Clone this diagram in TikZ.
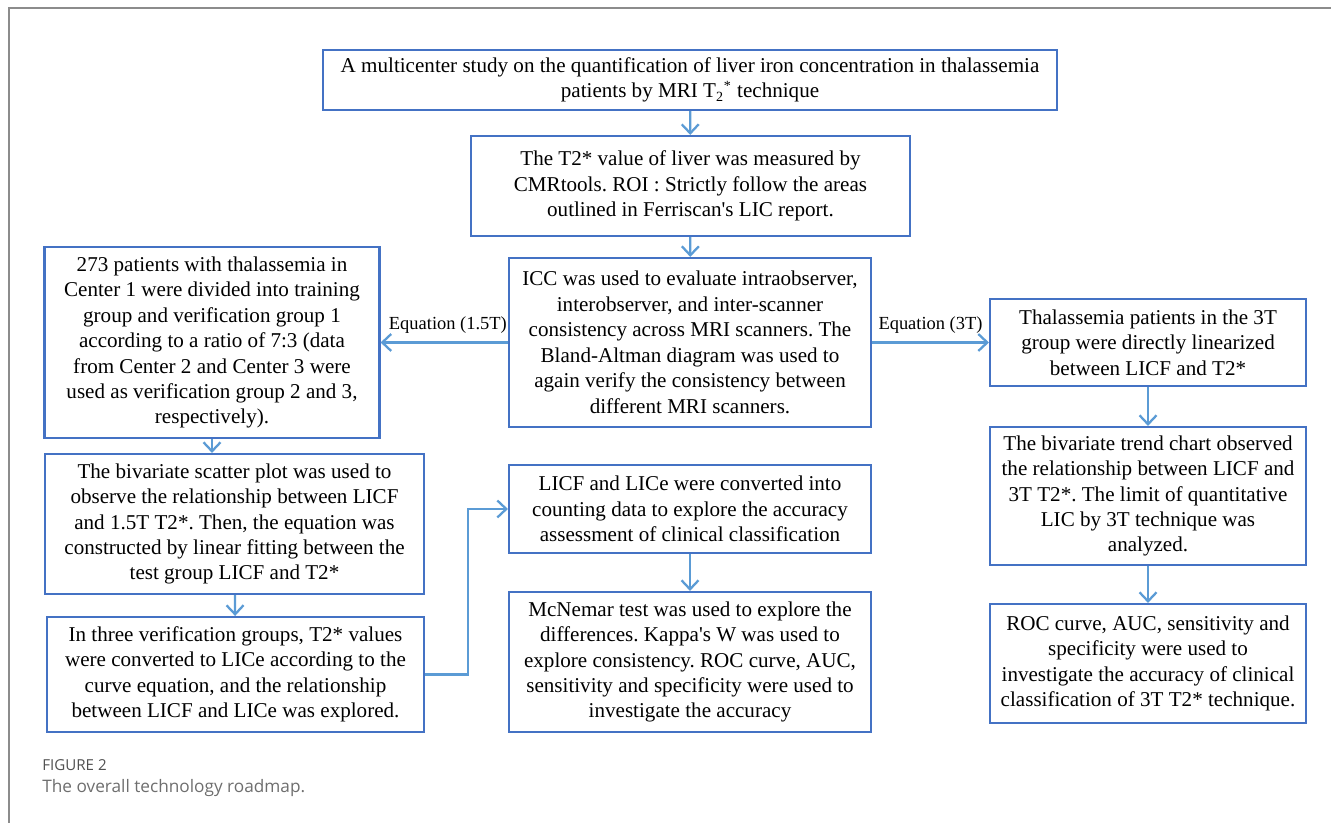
\documentclass[tikz,border=0pt]{standalone}
\usepackage{fontspec}
\setmainfont{Liberation Serif}
\newfontfamily\capfont{Open Sans}
\usepackage{xcolor}
\usepackage{tikz}
\usetikzlibrary{arrows.meta}
\definecolor{RMBox}{HTML}{4472C4}
\definecolor{RMArrow}{HTML}{5B9BD5}
\definecolor{RMFrame}{HTML}{8C8C8C}
\definecolor{RMCapHead}{HTML}{505050}
\definecolor{RMCap}{HTML}{6E6E6E}
\frenchspacing

\begin{document}
\begin{tikzpicture}[x=1cm,y=1cm,
  rbox/.style={draw=RMBox,line width=1.2pt,align=center,inner sep=0.1cm,font=\fontsize{12}{14.5}\selectfont},
  flow/.style={draw=RMArrow,line width=1.3pt,-{Straight Barb[length=1.8mm,width=3.4mm]}},
  eqlabel/.style={inner sep=0pt,font=\fontsize{10.5}{12}\selectfont}]
\path[use as bounding box] (0,0) rectangle (26.62,16.46);
\draw[RMFrame,line width=0.9pt] (0.18,0) -- (0.18,16.30) -- (26.62,16.30);
% centre column
\node[rbox,minimum width=14.68cm,minimum height=1.20cm] (title) at (13.80,14.86)
  {A multicenter study on the quantification of liver iron concentration in thalassemia\\
   patients by MRI T\textsubscript{2}\textsuperscript{*} technique};
\node[rbox,minimum width=8.78cm,minimum height=2.00cm] (meas) at (13.81,12.74)
  {The T2* value of liver was measured by\\
   CMRtools. ROI : Strictly follow the areas\\
   outlined in Ferriscan\textquotesingle s LIC report.};
\node[rbox,minimum width=7.24cm,minimum height=3.38cm] (icc) at (13.80,9.61)
  {ICC was used to evaluate intraobserver,\\
   interobserver, and inter-scanner\\
   consistency across MRI scanners. The\\
   Bland-Altman diagram was used to\\
   again verify the consistency between\\
   different MRI scanners.};
\node[rbox,minimum width=7.24cm,minimum height=1.76cm] (licf) at (13.80,6.28)
  {LICF and LICe were converted into\\
   counting data to explore the accuracy\\
   assessment of clinical classification};
\node[rbox,minimum width=7.24cm,minimum height=2.80cm] (mcnemar) at (13.80,3.22)
  {McNemar test was used to explore the\\
   differences. Kappa\textquotesingle s W was used to\\
   explore consistency. ROC curve, AUC,\\
   sensitivity and specificity were used to\\
   investigate the accuracy};
% left column (1.5T)
\node[rbox,minimum width=6.70cm,minimum height=3.82cm] (split) at (4.24,9.61)
  {273 patients with thalassemia in\\
   Center 1 were divided into training\\
   group and verification group 1\\
   according to a ratio of 7:3 (data\\
   from Center 2 and Center 3 were\\
   used as verification group 2 and 3,\\
   respectively).};
\node[rbox,minimum width=7.58cm,minimum height=2.80cm] (scatter) at (4.69,5.98)
  {The bivariate scatter plot was used to\\
   observe the relationship between LICF\\
   and 1.5T T2*. Then, the equation was\\
   constructed by linear fitting between the\\
   test group LICF and T2*};
\node[rbox,minimum width=7.54cm,minimum height=2.30cm] (verif) at (4.71,2.97)
  {In three verification groups, T2* values\\
   were converted to LICe according to the\\
   curve equation, and the relationship\\
   between LICF and LICe was explored.};
% right column (3T)
\node[rbox,minimum width=6.32cm,minimum height=1.74cm] (three) at (22.96,9.61)
  {Thalassemia patients in the 3T\\
   group were directly linearized\\
   between LICF and T2*};
\node[rbox,minimum width=6.32cm,minimum height=2.76cm] (trend) at (22.96,6.54)
  {The bivariate trend chart observed\\
   the relationship between LICF and\\
   3T T2*. The limit of quantitative\\
   LIC by 3T technique was\\
   analyzed.};
\node[rbox,minimum width=6.32cm,minimum height=2.38cm] (roc) at (22.96,3.19)
  {ROC curve, AUC, sensitivity and\\
   specificity were used to\\
   investigate the accuracy of clinical\\
   classification of 3T T2* technique.};
% connectors
\draw[flow] (title) -- (meas);
\draw[flow] (meas) -- (icc);
\draw[flow] (icc.west) -- (split.east)
  node[eqlabel,pos=0,anchor=base east,yshift=0.26cm] (eqlow) {Equation (1.5T)};
\draw[flow] (icc.east) -- (three.west)
  node[eqlabel,midway,anchor=base,yshift=0.26cm] (eqhigh) {Equation (3T)};
\draw[flow] (split) -- (split |- scatter.north);
\draw[flow] (scatter) -- (verif);
\draw[flow] (verif.east) -- ++(0.86,0) |- (licf.west);
\draw[flow] (licf) -- (mcnemar);
\draw[flow] (three) -- (trend);
\draw[flow] (trend) -- (roc);
% caption
\node[anchor=west,inner sep=0pt,text=RMCapHead,font=\capfont\fontsize{8.6}{10}\selectfont] (fighead) at (0.84,1.16) {FIGURE 2};
\node[anchor=west,inner sep=0pt,text=RMCap,font=\capfont\fontsize{9.8}{12}\selectfont] (figcap) at (0.84,0.70) {The overall technology roadmap.};
\end{tikzpicture}
\end{document}
